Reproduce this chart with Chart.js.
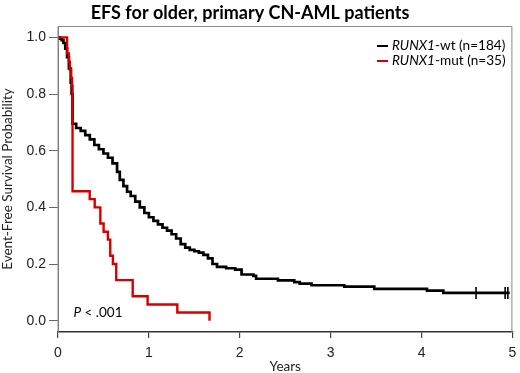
<!DOCTYPE html>
<html>
<head>
<meta charset="utf-8">
<script src="https://cdn.jsdelivr.net/npm/chart.js@4"></script>
<style>
  html, body { margin: 0; padding: 0; background: #fff; }
  #wrap { width: 520px; height: 373px; }
</style>
</head>
<body>
<div id="wrap"><canvas id="efs" width="520" height="373"></canvas></div>
<script>
// Kaplan-Meier step points (time in years, survival prob.)
const wtTimes = [0, 0.02, 0.04, 0.06, 0.08, 0.10, 0.12, 0.14, 0.15, 0.16, 0.20, 0.25, 0.30, 0.35, 0.40,
  0.45, 0.50, 0.55, 0.60, 0.65, 0.68, 0.72, 0.76, 0.80, 0.85, 0.90, 0.95, 1.00, 1.05, 1.10, 1.15,
  1.20, 1.25, 1.30, 1.35, 1.40, 1.45, 1.50, 1.55, 1.60, 1.65, 1.70, 1.75, 1.85, 1.95, 2.02, 2.15,
  2.18, 2.42, 2.60, 2.66, 2.79, 3.15, 3.48, 4.06, 4.24, 4.97];
const wtSurv = [1, 0.995, 0.99, 0.98, 0.96, 0.93, 0.89, 0.84, 0.80, 0.695, 0.68, 0.67, 0.655, 0.64, 0.62,
  0.605, 0.59, 0.575, 0.555, 0.525, 0.497, 0.475, 0.455, 0.44, 0.42, 0.40, 0.38, 0.365, 0.352, 0.34, 0.328,
  0.318, 0.305, 0.29, 0.27, 0.258, 0.25, 0.245, 0.24, 0.232, 0.22, 0.20, 0.19, 0.185, 0.18, 0.163, 0.158,
  0.148, 0.142, 0.136, 0.131, 0.125, 0.12, 0.112, 0.106, 0.098, 0.098];
const wtCensorTimes = [4.60, 4.92, 4.95];
const wtCensorSurv = [0.098, 0.098, 0.098];

const mutTimes = [0, 0.10, 0.12, 0.13, 0.145, 0.155, 0.16, 0.349, 0.404, 0.466, 0.502, 0.549, 0.575,
  0.604, 0.641, 0.822, 0.986, 1.313, 1.667];
const mutSurv = [1, 0.943, 0.914, 0.886, 0.857, 0.829, 0.457, 0.429, 0.400, 0.343, 0.314, 0.286, 0.229,
  0.200, 0.143, 0.086, 0.057, 0.029, 0];

const xTicks = [0, 1, 2, 3, 4, 5];
const yTicks = [0, 0.2, 0.4, 0.6, 0.8, 1.0];

const titleText = 'EFS for older, primary CN-AML patients';
const legendItems = [
  { gene: 'RUNX1', rest: '-wt (n=184)', color: '#000000' },
  { gene: 'RUNX1', rest: '-mut (n=35)', color: '#d40000' }
];

const toXY = (xs, ys) => xs.map((x, i) => ({ x, y: ys[i] }));

const SANS = 'Lato, "Open Sans", sans-serif';
const ARIAL = '"Liberation Sans", Arial, sans-serif';

// title, box, legend and p-value text
const extras = {
  id: 'extras',
  afterDraw(chart) {
    const { ctx, chartArea: a } = chart;
    ctx.save();
    ctx.strokeStyle = '#8a8a8a';
    ctx.lineWidth = 1;
    ctx.beginPath();
    ctx.moveTo(a.left, a.bottom);
    ctx.lineTo(a.left, a.top + 0.5);
    ctx.lineTo(a.right - 0.5, a.top + 0.5);
    ctx.lineTo(a.right - 0.5, a.bottom);
    ctx.stroke();

    ctx.fillStyle = '#000';
    ctx.textBaseline = 'middle';
    ctx.textAlign = 'center';
    ctx.font = 'bold 18px ' + SANS;
    ctx.fillText(titleText, 250, 13);

    ctx.textAlign = 'left';
    legendItems.forEach((it, i) => {
      const y = 46 + i * 15;
      ctx.strokeStyle = it.color;
      ctx.lineWidth = 2;
      ctx.beginPath();
      ctx.moveTo(377, y);
      ctx.lineTo(388, y);
      ctx.stroke();
      ctx.font = 'italic 13.6px ' + SANS;
      ctx.fillText(it.gene, 392, y);
      const w = ctx.measureText(it.gene).width;
      ctx.font = '13.6px ' + SANS;
      ctx.fillText(it.rest, 392 + w, y);
    });

    const px = chart.scales.x.getPixelForValue(0.17);
    const py = chart.scales.y.getPixelForValue(0.028);
    ctx.font = 'italic 13.5px ' + SANS;
    ctx.fillText('P', px, py);
    const pw = ctx.measureText('P').width;
    ctx.font = '13.5px ' + SANS;
    ctx.fillText(' < .001', px + pw, py);
    ctx.restore();
  }
};

new Chart(document.getElementById('efs'), {
  type: 'line',
  data: {
    datasets: [
      {
        label: 'RUNX1-mut (n=35)',
        data: toXY(mutTimes, mutSurv),
        borderColor: '#d40000',
        borderWidth: 2.4,
        stepped: 'before',
        pointRadius: 0,
        fill: false,
        order: 0
      },
      {
        label: 'RUNX1-wt (n=184)',
        data: toXY(wtTimes, wtSurv),
        borderColor: '#000000',
        borderWidth: 2.7,
        stepped: 'before',
        pointRadius: 0,
        fill: false,
        order: 1
      },
      {
        label: 'censored',
        data: toXY(wtCensorTimes, wtCensorSurv),
        showLine: false,
        pointStyle: 'line',
        rotation: 90,
        pointRadius: 6,
        pointBorderWidth: 1.6,
        borderColor: '#000000',
        backgroundColor: '#000000',
        order: 2
      }
    ]
  },
  options: {
    responsive: false,
    animation: false,
    layout: { padding: { top: 26, right: 4, left: 0, bottom: 0 } },
    plugins: {
      legend: { display: false },
      tooltip: { enabled: false },
      title: { display: false }
    },
    scales: {
      x: {
        type: 'linear',
        min: 0, max: 5,
        afterBuildTicks: s => { s.ticks = xTicks.map(v => ({ value: v })); },
        afterFit: s => { s.height = 41; s.paddingLeft = 0; s.paddingRight = 0; },
        ticks: { font: { family: ARIAL, size: 14 }, color: '#222', padding: 7, maxRotation: 0 },
        grid: { drawOnChartArea: false, drawTicks: true, tickLength: 6, color: '#444', lineWidth: 1.2 },
        border: { color: '#333', width: 1.5 },
        title: { display: true, text: 'Years', font: { family: SANS, size: 13.5, lineHeight: 1 }, color: '#222', padding: { top: 0, bottom: 0 } }
      },
      y: {
        type: 'linear',
        min: -0.04, max: 1.04,
        afterBuildTicks: s => { s.ticks = yTicks.map(v => ({ value: v })); },
        afterFit: s => { s.width = 58; },
        ticks: { font: { family: ARIAL, size: 14 }, color: '#222', padding: 3, callback: v => v.toFixed(1) },
        grid: { drawOnChartArea: false, drawTicks: true, tickLength: 9, color: '#666', lineWidth: 1 },
        border: { color: '#777', width: 1 },
        title: { display: true, text: 'Event-Free Survival Probability', font: { family: SANS, size: 13.5 }, color: '#222', padding: { top: 0, bottom: 0 } }
      }
    }
  },
  plugins: [extras]
});
</script>
</body>
</html>
